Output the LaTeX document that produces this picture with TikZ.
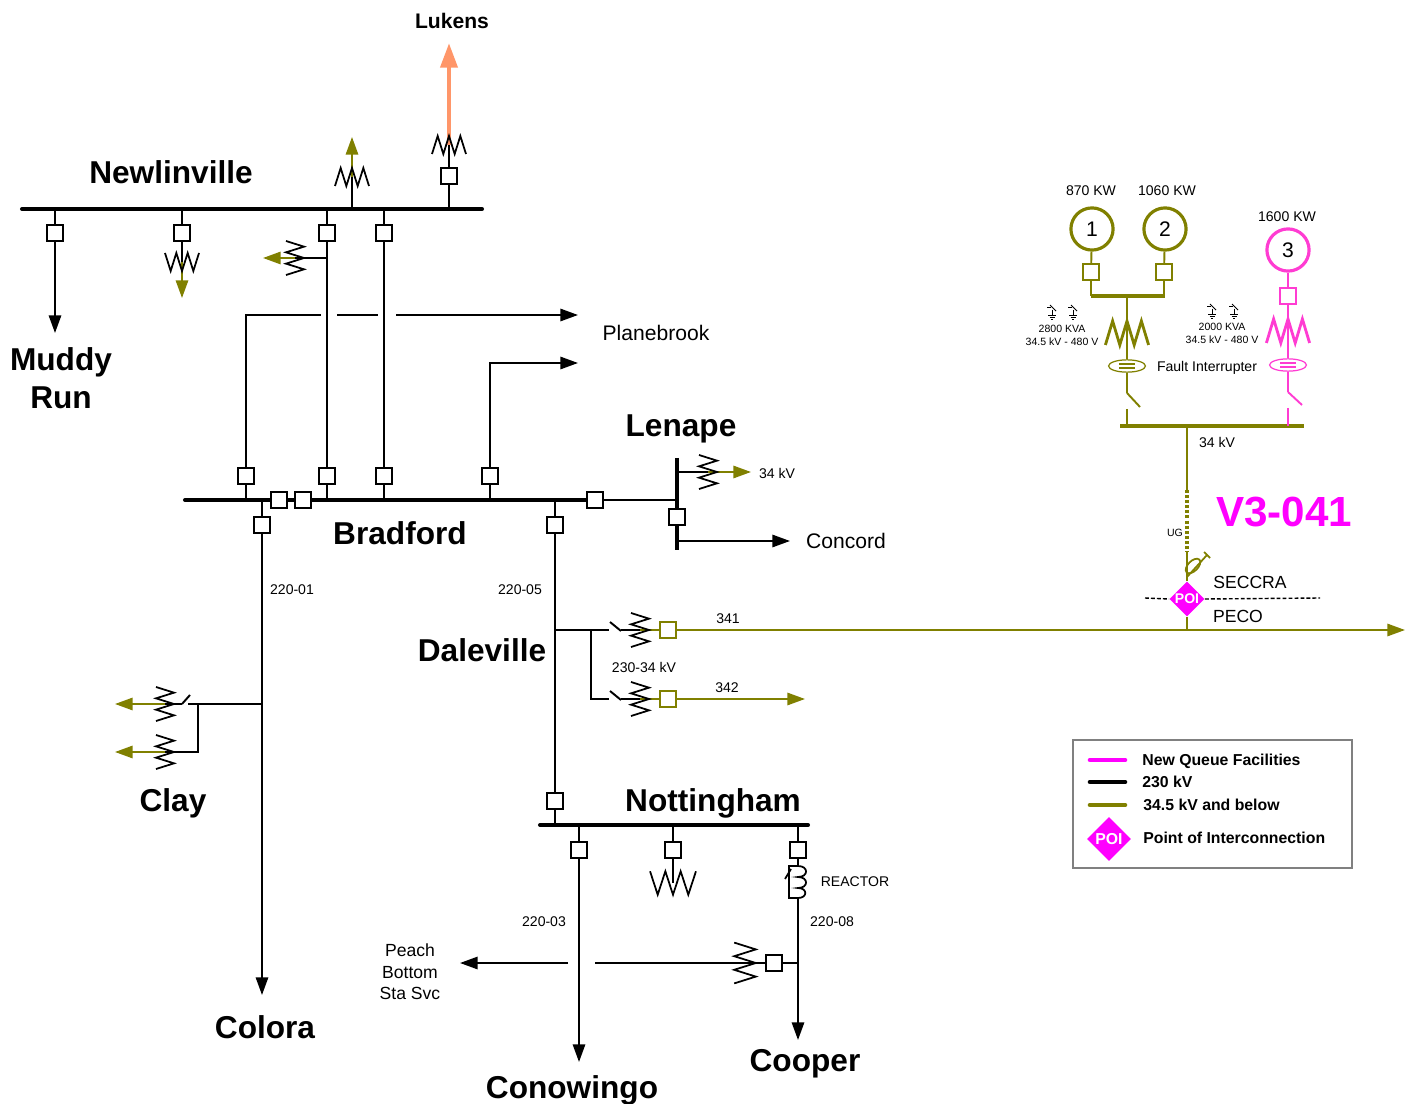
\documentclass[tikz,border=0pt]{standalone}
\usepackage{fontspec}
\setmainfont{Liberation Sans}
\usetikzlibrary{arrows.meta,shapes.geometric}

\definecolor{olivekv}{RGB}{128,128,0}
\definecolor{lukensred}{RGB}{255,150,105}
\definecolor{queuepink}{RGB}{255,60,210}
\definecolor{poimag}{RGB}{255,0,255}

\tikzset{
  bus/.style={line width=2.3pt,line cap=round},
  wire/.style={line width=1.1pt},
  brk/.style={draw,fill=white,line width=0.9pt,minimum size=9pt,inner sep=0pt},
  arr/.style={-{Triangle[length=10pt,width=7pt]}},
  zz/.style={line width=1pt},
  bigname/.style={font=\fontsize{18}{22}\selectfont\bfseries,inner sep=0pt,text depth=0pt},
  midtxt/.style={font=\fontsize{12}{14}\selectfont,inner sep=0pt,text depth=0pt},
  lbltxt/.style={font=\fontsize{10}{12.2}\selectfont,inner sep=0pt,text depth=0pt},
  smalltxt/.style={font=\fontsize{8}{9.6}\selectfont,inner sep=0pt,text depth=0pt},
  tinytxt/.style={font=\fontsize{6}{7.4}\selectfont,inner sep=0pt,text depth=0pt},
  legtxt/.style={font=\fontsize{9}{11}\selectfont\bfseries,inner sep=0pt,text depth=0pt,anchor=west},
  legline/.style={line width=2.6pt,line cap=round},
  gen/.style={circle,draw=olivekv,line width=1.8pt,minimum size=24pt,inner sep=0pt,font=\fontsize{12}{14}\selectfont},
  fault/.style={ellipse,draw,line width=0.7pt,minimum width=21pt,minimum height=7pt,inner sep=0pt},
  poi/.style={diamond,fill=poimag,text=white,inner sep=0pt,minimum size=20pt,font=\fontsize{8}{9}\selectfont\bfseries},
  xfmr/.pic={\draw (-17,-9) -- (-11.33,9) -- (-5.67,-9) -- (0,9) -- (5.67,-9) -- (11.33,9) -- (17,-9);},
  gnd/.pic={
    \draw (-5,-5) -- (-1,-5);
    \draw (-2,-7) -- (4,-1);
    \draw (0,-2) -- (0,3);
    \draw (-4,3) -- (4,3);
    \draw (-2.5,5) -- (2.5,5);
    \draw (-1,7) -- (1,7);},
  reactor/.pic={
    \draw (0,-16) -- (-9,-16) -- (-9,16) -- (0,16);
    \draw (0,-16) to[out=0,in=0,looseness=2.5] (0,-5) to[out=0,in=0,looseness=2.5] (0,6) to[out=0,in=0,looseness=2.5] (0,16);
    \draw (-13,-3) -- (-7,-13);},
}

\begin{document}
\begin{tikzpicture}[x=0.02cm,y=-0.02cm]
\useasboundingbox (0,0) rectangle (1413,1104);

	% Newlinville
	\coordinate (nwl-w) at (22,209);
	\coordinate (nwl-e) at (482,209);
	\draw[bus] (nwl-w) to (nwl-e);
	\node (nwl) at (171,172) [bigname] {Newlinville};
	\node (nb1) at (55,233) [brk] {};
	\node (nb2) at (182,233) [brk] {};
	\node (nb3) at (327,233) [brk] {};
	\node (nb4) at (384,233) [brk] {};
	\node (nb5) at (449,176) [brk] {};
	\draw[wire] (nb1) to (nb1 |- nwl-w);
	\draw[wire] (nb2) to (nb2 |- nwl-w);
	\draw[wire] (nb3) to (nb3 |- nwl-w);
	\draw[wire] (nb4) to (nb4 |- nwl-w);
	\draw[wire] (nb5) to (nb5 |- nwl-w);

	% Muddy Run
	\coordinate (muddy) at (55,333);
	\draw[wire,arr] (nb1) to (muddy);
	\node (muddy-lbl) at (61,378) [bigname,align=center] {Muddy\\Run};

	% Newlinville transformers
	\coordinate (tx2) at (182,262);
	\coordinate (tx2-o) at (182,298);
	\draw[wire] (nb2) to (tx2);
	\draw[wire,olivekv,arr] (tx2) to (tx2-o);
	\pic[zz] at (tx2) {xfmr};

	\coordinate (tx3-j) at (327,258);
	\coordinate (tx3) at (295,258);
	\coordinate (tx3-o) at (263,258);
	\draw[wire] (tx3-j) to (tx3);
	\draw[wire,olivekv,arr] (tx3) to (tx3-o);
	\pic[zz,rotate=90] at (tx3) {xfmr};

	\coordinate (tx6) at (352,177);
	\coordinate (tx6-o) at (352,137);
	\draw[wire] (tx6 |- nwl-w) to (tx6);
	\draw[wire,olivekv,arr] (tx6) to (tx6-o);
	\pic[zz,yscale=-1] at (tx6) {xfmr};

	% Lukens
	\coordinate (tx7) at (449,145);
	\coordinate (lukens) at (449,43);
	\draw[wire] (nb5) to (tx7);
	\draw[line width=2.6pt,lukensred,-{Triangle[length=14pt,width=9.5pt]}] (tx7) to (lukens);
	\pic[zz,yscale=-1] at (tx7) {xfmr};
	\node (lukens-lbl) at (452,21) [font=\fontsize{12}{14}\selectfont\bfseries,inner sep=0pt,text depth=0pt] {Lukens};

	% Bradford
	\coordinate (brd-w) at (185,500);
	\coordinate (brd-e) at (595,500);
	\draw[bus] (brd-w) to (brd-e);
	\node (brd) at (400,533) [bigname] {Bradford};
	\node (bb1) at (246,476) [brk] {};
	\node (bb3) at (327,476) [brk] {};
	\node (bb4) at (384,476) [brk] {};
	\node (bb5) at (490,476) [brk] {};
	\node (bt1) at (279,500) [brk] {};
	\node (bt2) at (303,500) [brk] {};
	\node (bd1) at (262,525) [brk] {};
	\node (bd2) at (555,525) [brk] {};
	\node (bl) at (595,500) [brk] {};
	\draw[wire] (bb1) to (bb1 |- brd-w);
	\draw[wire] (bb3) to (bb3 |- brd-w);
	\draw[wire] (bb4) to (bb4 |- brd-w);
	\draw[wire] (bb5) to (bb5 |- brd-w);
	\draw[wire] (bd1) to (bd1 |- brd-w);
	\draw[wire] (bd2) to (bd2 |- brd-w);
	\draw[wire] (nb3) to (bb3);
	\draw[wire] (nb4) to (bb4);

	% Planebrook
	\coordinate (pb1-a) at (321,315);
	\coordinate (pb1-b) at (337,315);
	\coordinate (pb1-c) at (378,315);
	\coordinate (pb1-d) at (396,315);
	\coordinate (pb1) at (578,315);
	\coordinate (pb2) at (578,363);
	\draw[wire] (bb1) |- (pb1-a);
	\draw[wire] (pb1-b) to (pb1-c);
	\draw[wire,arr] (pb1-d) to (pb1);
	\draw[wire,arr] (bb5) |- (pb2);
	\node (pb-lbl) at (656,333) [midtxt] {Planebrook};

	% Lenape
	\coordinate (len-n) at (677,458);
	\coordinate (len-s) at (677,550);
	\draw[bus,line cap=butt] (len-n) to (len-s);
	\node (lb) at (677,517) [brk] {};
	\node (len) at (681,426) [bigname] {Lenape};
	\draw[wire] (bl) to (bl -| len-n);
	\coordinate (tx8) at (708,472);
	\coordinate (tx8-o) at (751,472);
	\draw[wire] (tx8 -| len-n) to (tx8);
	\draw[wire,olivekv,arr] (tx8) to (tx8-o);
	\pic[zz,rotate=90] at (tx8) {xfmr};
	\node (len-kv) at (777,473) [smalltxt] {34 kV};
	\coordinate (concord) at (790,541);
	\draw[wire,arr] (concord -| len-n) to (concord);
	\node (concord-lbl) at (846,541) [midtxt] {Concord};

	% Colora and Clay
	\coordinate (colora) at (262,995);
	\draw[wire,arr] (bd1) to (colora);
	\node (colora-lbl) at (265,1027) [bigname] {Colora};
	\node (l01) at (292,590) [smalltxt] {220-01};
	\coordinate (cj1) at (262,704);
	\coordinate (cj2) at (198,704);
	\coordinate (csw1) at (188,704);
	\coordinate (csw2) at (182,704);
	\coordinate (csw3) at (190,695);
	\coordinate (ctx1) at (165,704);
	\coordinate (ctx2) at (165,752);
	\coordinate (clay1) at (115,704);
	\coordinate (clay2) at (115,752);
	\draw[wire] (cj1) to (csw1);
	\draw[wire] (csw2) to (csw3);
	\draw[wire] (csw2) to (ctx1);
	\draw[wire] (cj2) |- (ctx2);
	\draw[wire,olivekv,arr] (ctx1) to (clay1);
	\draw[wire,olivekv,arr] (ctx2) to (clay2);
	\pic[zz,rotate=90] at (ctx1) {xfmr};
	\pic[zz,rotate=90] at (ctx2) {xfmr};
	\node (clay) at (173,800) [bigname] {Clay};

	% Daleville
	\node (ntb) at (555,801) [brk] {};
	\draw[wire] (bd2) to (ntb);
	\node (l05) at (520,590) [smalltxt] {220-05};
	\node (dal) at (482,650) [bigname] {Daleville};
	\coordinate (dj1) at (555,630);
	\coordinate (dj2) at (591,630);
	\coordinate (dsw1) at (609,630);
	\coordinate (dsw2) at (609,699);
	\coordinate (dtx1) at (640,630);
	\coordinate (dtx2) at (640,699);
	\node (db1) at (668,630) [brk,draw=olivekv] {};
	\node (db2) at (668,699) [brk,draw=olivekv] {};
	\coordinate (out341) at (1405,630);
	\coordinate (out342) at (805,699);
	\draw[wire] (dj1) to (dsw1);
	\draw[wire] ([shift={(1,-8)}]dsw1) to ([shift={(12,1)}]dsw1);
	\draw[wire] ([shift={(12,0)}]dsw1) to (dtx1);
	\draw[wire] (dj2) |- (dsw2);
	\draw[wire] ([shift={(1,-8)}]dsw2) to ([shift={(12,1)}]dsw2);
	\draw[wire] ([shift={(12,0)}]dsw2) to (dtx2);
	\draw[wire,olivekv] (dtx1) to (db1);
	\draw[wire,olivekv] (dtx2) to (db2);
	\draw[wire,olivekv,arr] (db1) to (out341);
	\draw[wire,olivekv,arr] (db2) to (out342);
	\pic[zz,rotate=90] at (dtx1) {xfmr};
	\pic[zz,rotate=90] at (dtx2) {xfmr};
	\node (l341) at (728,619) [smalltxt] {341};
	\node (l342) at (727,688) [smalltxt] {342};
	\node (l23034) at (644,667) [smalltxt] {230-34 kV};

	% Nottingham
	\coordinate (not-w) at (540,825);
	\coordinate (not-e) at (808,825);
	\draw[bus] (not-w) to (not-e);
	\node (not) at (713,800) [bigname] {Nottingham};
	\draw[wire] (ntb) to (ntb |- not-w);
	\node (nt1) at (579,850) [brk] {};
	\node (nt2) at (673,850) [brk] {};
	\node (nt3) at (798,850) [brk] {};
	\draw[wire] (nt1) to (nt1 |- not-w);
	\draw[wire] (nt2) to (nt2 |- not-w);
	\draw[wire] (nt3) to (nt3 |- not-w);
	\coordinate (conow) at (579,1062);
	\draw[wire,arr] (nt1) to (conow);
	\node (conow-lbl) at (572,1087) [bigname] {Conowingo};
	\node (l03) at (544,922) [smalltxt] {220-03};
	\coordinate (ntx) at (673,883);
	\draw[wire] (nt2) to (ntx);
	\pic[zz,xscale=1.35,yscale=1.3] at (ntx) {xfmr};

	% Cooper
	\coordinate (rc-top) at (798,866);
	\coordinate (rc) at (798,882);
	\coordinate (rc-bot) at (798,898);
	\coordinate (cooper) at (798,1040);
	\draw[wire] (nt3) to (rc-top);
	\pic[zz] at (rc) {reactor};
	\draw[wire,arr] (rc-bot) to (cooper);
	\node (react-lbl) at (855,882) [smalltxt] {REACTOR};
	\node (l08) at (832,922) [smalltxt] {220-08};
	\node (cooper-lbl) at (805,1060) [bigname] {Cooper};

	% Peach Bottom
	\coordinate (pbj) at (798,963);
	\node (pbb) at (774,963) [brk] {};
	\coordinate (ptx) at (745,963);
	\coordinate (pgap-a) at (595,963);
	\coordinate (pgap-b) at (568,963);
	\coordinate (peach) at (460,963);
	\draw[wire] (pbj) to (pbb);
	\draw[wire] (pbb) to (ptx);
	\draw[wire] (ptx) to (pgap-a);
	\draw[wire,arr] (pgap-b) to (peach);
	\pic[zz,rotate=90,scale=1.2] at (ptx) {xfmr};
	\node (peach-lbl) at (410,972) [lbltxt,align=center] {Peach\\Bottom\\Sta Svc};

	% Generators
	\node (g1) at (1092,229) [gen] {1};
	\node (g2) at (1165,229) [gen] {2};
	\node (g3) at (1288,250) [gen,draw=queuepink] {3};
	\node (g1-lbl) at (1091,191) [smalltxt] {870 KW};
	\node (g2-lbl) at (1167,191) [smalltxt] {1060 KW};
	\node (g3-lbl) at (1287,217) [smalltxt] {1600 KW};
	\node (gb1) at (1091,272) [brk,draw=olivekv] {};
	\node (gb2) at (1164,272) [brk,draw=olivekv] {};
	\node (gb3) at (1288,296) [brk,draw=queuepink] {};
	\coordinate (gbus-w) at (1091,296);
	\coordinate (gbus-e) at (1165,296);
	\draw[wire,olivekv] (g1) to (gb1);
	\draw[wire,olivekv] (g2) to (gb2);
	\draw[wire,olivekv] (gb1) to (gb1 |- gbus-w);
	\draw[wire,olivekv] (gb2) to (gb2 |- gbus-w);
	\draw[bus,olivekv,line cap=butt] (gbus-w) to (gbus-e);
	\draw[wire,queuepink] (g3) to (gb3);

	% 34 kV bus
	\coordinate (kv-w) at (1120,426);
	\coordinate (kv-e) at (1304,426);
	\draw[bus,olivekv,line width=2.8pt,line cap=butt] (kv-w) to (kv-e);
	\node (kv-lbl) at (1217,442) [smalltxt] {34 kV};

	% step-up units
	\coordinate (gtap) at (1127,296);
	\coordinate (gtx1) at (1127,333);
	\coordinate (gtx3) at (1288,331);
	\node (fi1) at (1127,366) [fault,draw=olivekv] {};
	\node (fi3) at (1288,365) [fault,draw=queuepink] {};
	\coordinate (gsw1) at (1127,393);
	\coordinate (gsw3) at (1288,392);
	\coordinate (gbl1) at (1140,407);
	\coordinate (gbl3) at (1302,405);
	\coordinate (gst1) at (1127,409);
	\coordinate (gst3) at (1288,408);
	\draw[wire,olivekv] (gtap) to (fi1);
	\draw[wire,olivekv] (fi1) to (gsw1);
	\draw[wire,olivekv] (gsw1) to (gbl1);
	\draw[wire,olivekv] (gst1) to (gst1 |- kv-w);
	\draw[wire,queuepink] (gb3) to (fi3);
	\draw[wire,queuepink] (fi3) to (gsw3);
	\draw[wire,queuepink] (gsw3) to (gbl3);
	\draw[wire,queuepink] (gst3) to (gst3 |- kv-w);
	\draw[olivekv,line width=0.6pt] (fi1.center) ++(-8,-2) -- ++(16,0) ++(-16,4) -- ++(16,0);
	\draw[queuepink,line width=0.6pt] (fi3.center) ++(-8,-2) -- ++(16,0) ++(-16,4) -- ++(16,0);
	\pic[olivekv,line width=1.6pt,xscale=1.27,yscale=-1.33] at (gtx1) {xfmr};
	\pic[queuepink,line width=1.6pt,xscale=1.27,yscale=-1.33] at (gtx3) {xfmr};
	\pic[line width=0.5pt] at (1052,312) {gnd};
	\pic[line width=0.5pt] at (1073,312) {gnd};
	\pic[line width=0.5pt] at (1212,311) {gnd};
	\pic[line width=0.5pt] at (1234,311) {gnd};
	\node (t1-lbl) at (1062,335) [tinytxt,align=center] {2800 KVA\\34.5 kV - 480 V};
	\node (t3-lbl) at (1222,333) [tinytxt,align=center] {2000 KVA\\34.5 kV - 480 V};
	\node (fi-lbl) at (1207,366) [smalltxt] {Fault Interrupter};

	% POI
	\coordinate (ug-top) at (1187,426);
	\coordinate (ug-a) at (1187,490);
	\coordinate (ug-b) at (1187,552);
	\node (poi) at (1187,599) [poi] {POI};
	\draw[wire,olivekv] (ug-top) to (ug-a);
	\draw[olivekv,line width=1.9pt,dash pattern=on 1.7pt off 1.2pt] (ug-a) to (ug-b);
	\draw[wire,olivekv] (ug-b) to (poi.north);
	\draw[wire,olivekv] (poi.south) to (poi |- out341);
	\draw[olivekv,line width=1pt,rotate around={45:(1193,566)}] (1193,566) ellipse (9 and 5);
	\draw[olivekv,line width=1pt] (1187,577) to (1207,555);
	\draw[olivekv,line width=1pt] (1204,552) to (1210,558);
	\node (ug-lbl) at (1175,533) [tinytxt] {UG};
	\coordinate (sec-w) at (1145,598);
	\coordinate (sec-e) at (1320,598);
	\draw[line width=0.8pt,dash pattern=on 2.2pt off 1.2pt] (sec-w) to (poi.west);
	\draw[line width=0.8pt,dash pattern=on 2.2pt off 1.2pt] (poi.east) to (sec-e);
	\node (seccra) at (1250,582) [lbltxt] {SECCRA};
	\node (peco) at (1238,616) [lbltxt] {PECO};
	\node (proj) at (1284,512) [font=\fontsize{24}{28}\selectfont\bfseries,text=poimag,inner sep=0pt,text depth=0pt] {V3-041};

	% Legend
	\coordinate (leg-nw) at (1073,740);
	\coordinate (leg-se) at (1352,868);
	\draw[gray,line width=0.8pt] (leg-nw) rectangle (leg-se);
	\draw[legline,poimag] (1090,760) to (1125,760);
	\draw[legline,black] (1090,782) to (1125,782);
	\draw[legline,olivekv] (1090,805) to (1125,805);
	\node (leg1) at (1142,760) [legtxt] {New Queue Facilities};
	\node (leg2) at (1142,782) [legtxt] {230 kV};
	\node (leg3) at (1143,805) [legtxt] {34.5 kV and below};
	\node (legpoi) at (1109,839) [poi,minimum size=25pt,font=\fontsize{9}{10}\selectfont\bfseries] {POI};
	\node (leg4) at (1143,838) [legtxt] {Point of Interconnection};

\end{tikzpicture}
\end{document}
